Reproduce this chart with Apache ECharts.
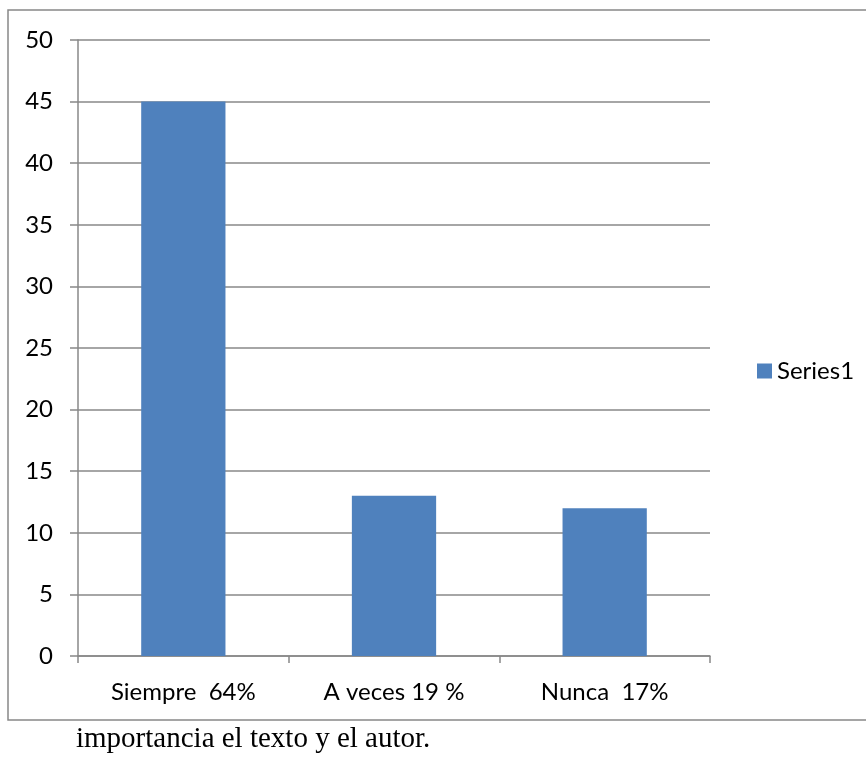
<!DOCTYPE html>
<html>
<head>
<meta charset="utf-8">
<script src="https://cdn.jsdelivr.net/npm/echarts@6/dist/echarts.min.js"></script>
<style>
html,body{margin:0;padding:0;background:#fff;}
#c{width:866px;height:757px;}
</style>
</head>
<body>
<div id="c"></div>
<script>
var categories = ['Siempre  64%', 'A veces 19 %', 'Nunca  17%'];
var seriesName = 'Series1';
var values = [45, 13, 12];
var caption = 'importancia el texto y el autor.';

var chart = echarts.init(document.getElementById('c'), null, {renderer: 'canvas'});
var font = 'Lato, "Open Sans", sans-serif';
chart.setOption({
  animation: false,
  backgroundColor: '#ffffff',
  grid: {left: 78, top: 40, right: 156, bottom: 101, containLabel: false},
  legend: {
    data: [seriesName],
    left: 752, top: 354,
    orient: 'vertical',
    icon: 'rect',
    itemWidth: 15, itemHeight: 15, itemGap: 6,
    textStyle: {fontFamily: font, fontSize: 24, color: '#000'}
  },
  xAxis: {
    type: 'category',
    data: categories,
    axisLine: {lineStyle: {color: '#888', width: 1.5}},
    axisTick: {show: true, length: 7, lineStyle: {color: '#888', width: 1.5}},
    axisLabel: {fontFamily: font, fontSize: 24, color: '#000', margin: 24}
  },
  yAxis: {
    type: 'value',
    min: 0, max: 50, interval: 5,
    axisLine: {show: true, lineStyle: {color: '#888', width: 1.5}},
    axisTick: {show: true, inside: false, length: 8, lineStyle: {color: '#888', width: 1.5}},
    splitLine: {show: true, lineStyle: {color: '#888', width: 1.5}},
    axisLabel: {fontFamily: font, fontSize: 24, color: '#000', margin: 25}
  },
  series: [{
    name: seriesName,
    type: 'bar',
    data: values,
    barCategoryGap: '60%',
    itemStyle: {color: '#4f81bd'}
  }],
  graphic: [
    {type: 'rect', shape: {x: 8, y: 10, width: 900, height: 710}, style: {fill: 'none', stroke: '#888', lineWidth: 1.5}, silent: true, z: -1},
    {type: 'text', x: 76, y: 739, style: {text: caption, verticalAlign: 'middle', font: '29px "Liberation Serif", "Times New Roman", serif', fill: '#000'}}
  ]
});
</script>
</body>
</html>
